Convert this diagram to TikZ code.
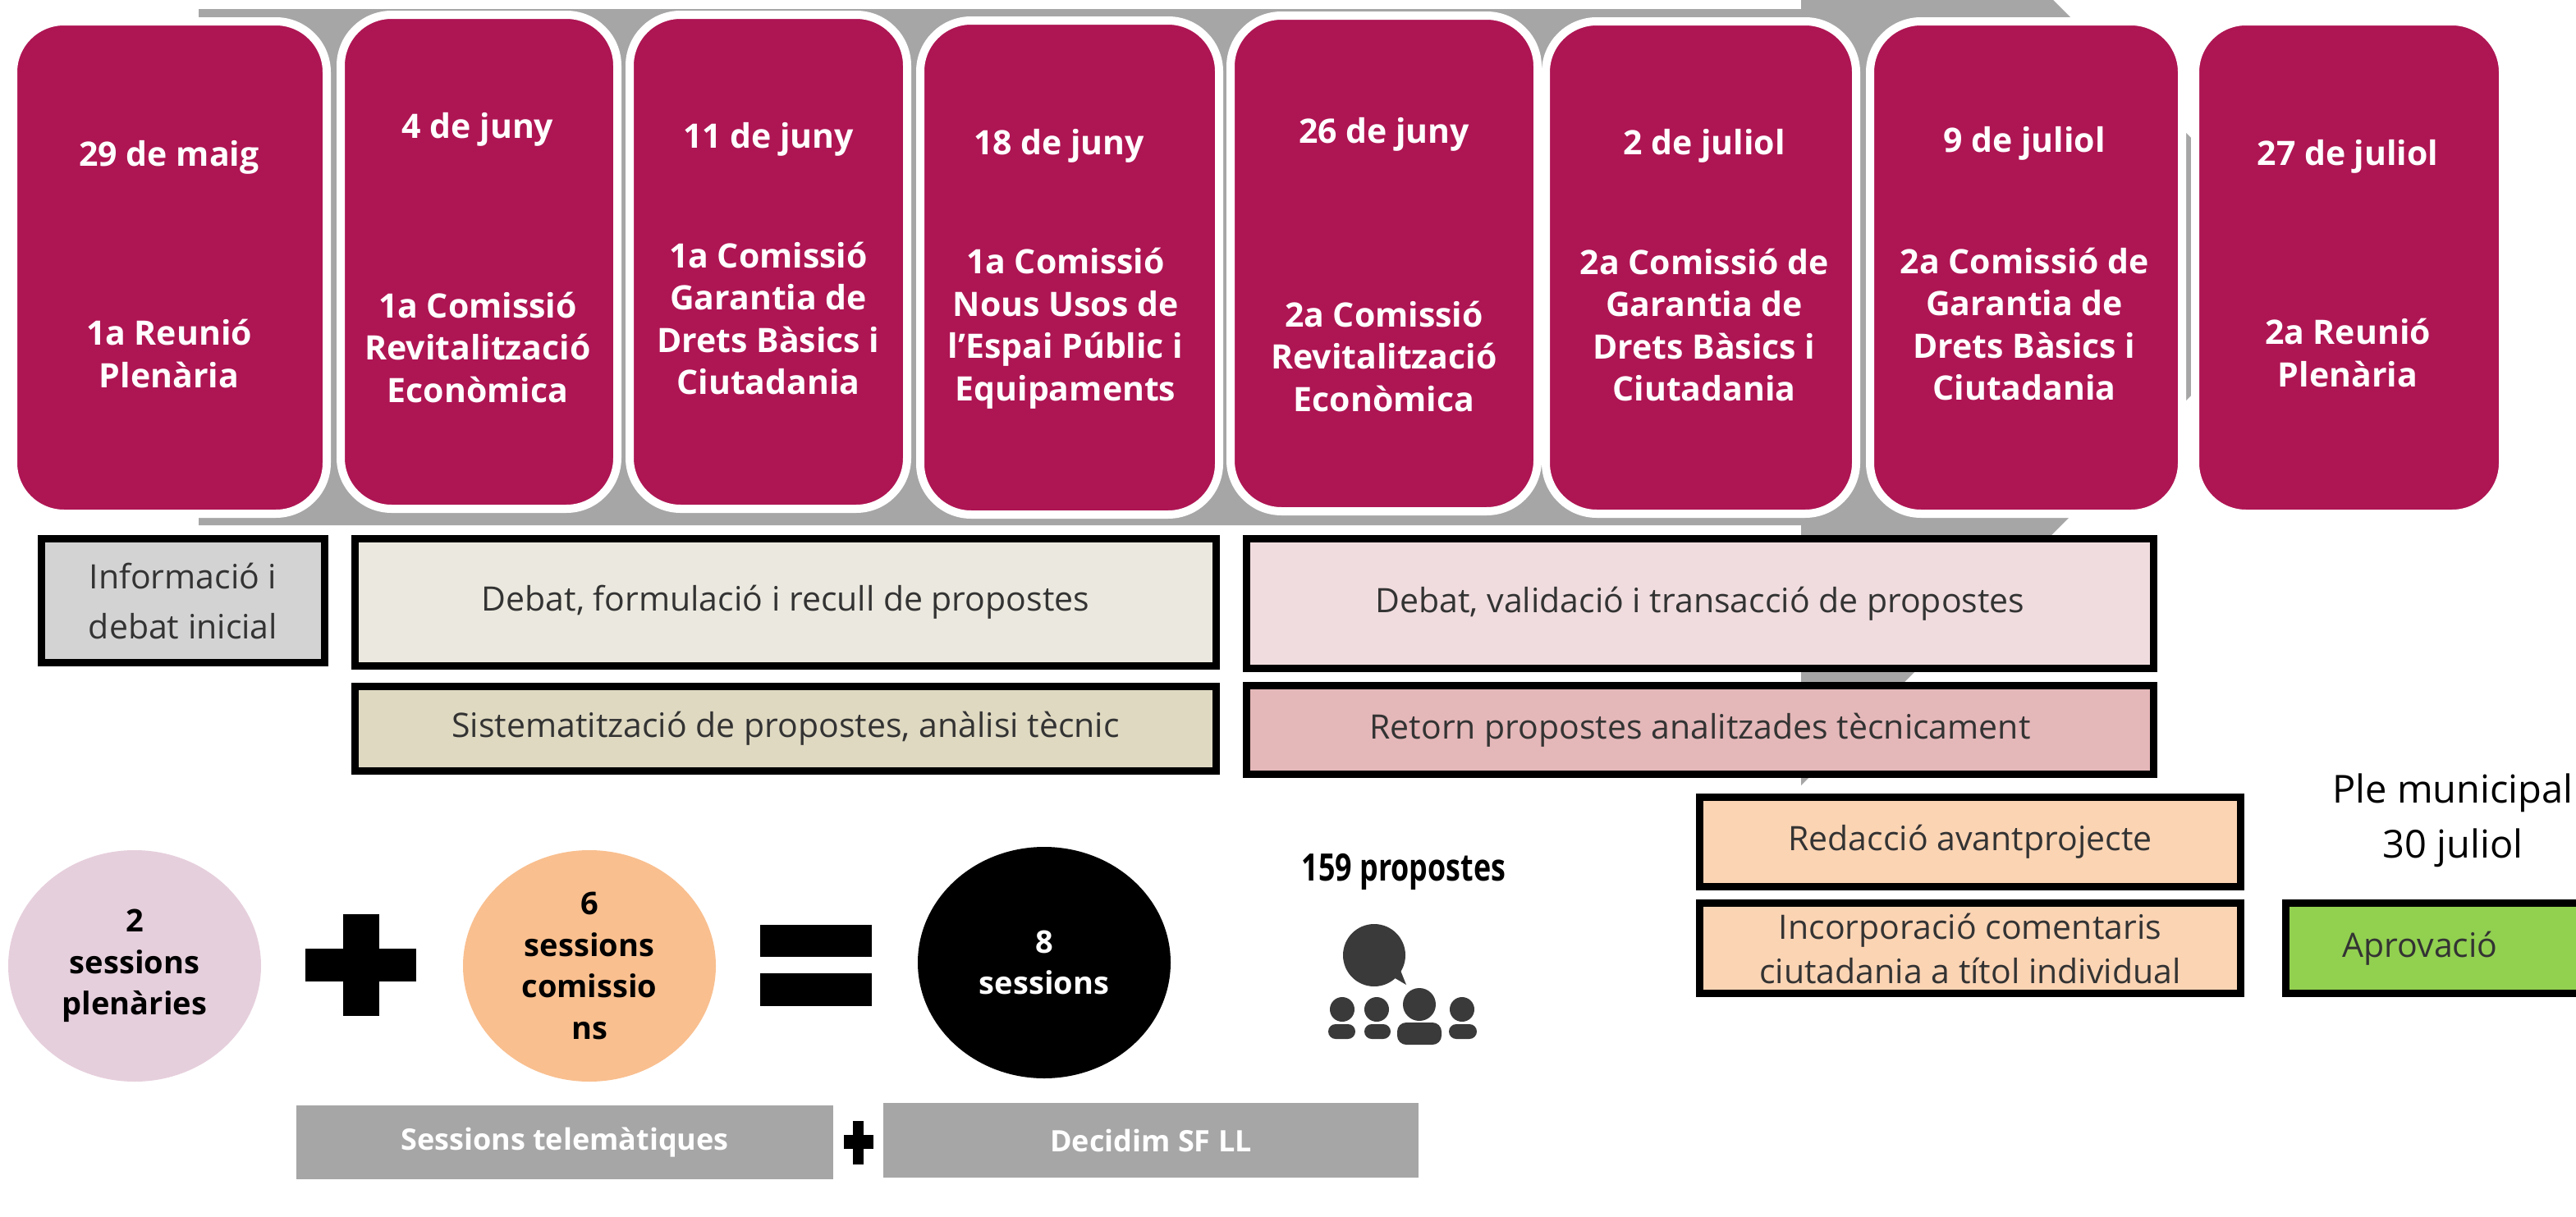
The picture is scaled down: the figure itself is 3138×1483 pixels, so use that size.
\documentclass[tikz,border=0pt]{standalone}
\usepackage{fontspec}
\setmainfont{Open Sans}
\usetikzlibrary{shapes.geometric}
\definecolor{cardc}{HTML}{AE1553}
\definecolor{arrowc}{HTML}{A6A6A6}
\definecolor{greyb}{HTML}{D3D3D3}
\definecolor{beigea}{HTML}{EBE9DF}
\definecolor{beigeb}{HTML}{DFD9C2}
\definecolor{rosea}{HTML}{F0DCDE}
\definecolor{roseb}{HTML}{E4B7B8}
\definecolor{peach}{HTML}{FBD4B4}
\definecolor{greenb}{HTML}{92D050}
\definecolor{pinkc}{HTML}{E6CFDC}
\definecolor{orangec}{HTML}{F9BF8F}
\definecolor{iconc}{HTML}{3A3A3A}
\definecolor{txt}{HTML}{333333}
\newcommand\fs[2]{\fontsize{#1}{#2}\selectfont}
% #1 style, #2 name, #3-#6 x0 y0 x1 y1, #7 extra on size, #8 text
\newcommand\mybox[8]{%
  \pgfmathsetmacro\bcx{(#3+#5)/2}\pgfmathsetmacro\bcy{(#4+#6)/2}%
  \pgfmathsetmacro\bw{#5-#3+#7}\pgfmathsetmacro\bh{#6-#4+#7}%
  \node[#1,minimum width=\bw pt,minimum height=\bh pt] (#2) at (\bcx,\bcy) {#8};}
\tikzset{
  card/.style={rectangle,rounded corners=62pt,fill=cardc,draw=white,line width=10pt,inner sep=0pt},
  cardtxt/.style={text=white,align=center,font=\fs{41}{51.5}\bfseries,inner sep=0pt},
  stage/.style={rectangle,draw=black,line width=9pt,text=txt,align=center,inner sep=0pt,font=\fs{41}{61}},
  bar/.style={rectangle,fill=black,inner sep=0pt},
  ball/.style={ellipse,inner sep=0pt,align=center,font=\fs{38}{50.5}\bfseries},
  greyrect/.style={rectangle,fill=arrowc,text=white,inner sep=0pt,font=\fs{36}{40}\bfseries},
  icon/.style={fill=iconc,draw=none},
}
\begin{document}
\begin{tikzpicture}[x=1pt,y=-1pt]
\useasboundingbox[fill=white] (0,0) rectangle (3138,1483);
% big arrow
\begin{scope}
\clip (0,0) rectangle (3138,1483);
\fill[arrowc] (242,11) -- (2194,11) -- (2194,-307) -- (2826,325) -- (2194,957) -- (2194,640) -- (242,640) -- cycle;
\fill[white] (0,0) rectangle (2194,9);
\end{scope}
% cards
\mybox{card}{c1}{21}{31}{393}{621}{10}{}
\mybox{card}{c2}{420}{23}{747}{615}{10}{}
\mybox{card}{c3}{772}{23}{1100}{615}{10}{}
\mybox{card}{c4}{1126}{30}{1480}{622}{10}{}
\mybox{card}{c5}{1504}{24}{1868}{618}{10}{}
\mybox{card}{c6}{1888}{31}{2256}{621}{10}{}
\mybox{card}{c7}{2283}{31}{2653}{621}{10}{}
\mybox{card}{c8}{2679}{31}{3044}{621}{10}{}
% card text
\node[cardtxt] (d1) at (206,192) {29 de maig};
\node[cardtxt] (t1) at (206,431) {1a Reunió\\Plenària};
\node[cardtxt] (d2) at (582,158) {4 de juny};
\node[cardtxt] (t2) at (582,423) {1a Comissió\\Revitalització\\Econòmica};
\node[cardtxt] (d3) at (936,170) {11 de juny};
\node[cardtxt] (t3) at (936,388) {1a Comissió\\Garantia de\\Drets Bàsics i\\Ciutadania};
\node[cardtxt] (d4) at (1290,178) {18 de juny};
\node[cardtxt] (t4) at (1298,400) {1a Comissió\\Nous Usos de\\l’Espai Públic i\\Equipaments};
\node[cardtxt] (d5) at (1686,164) {26 de juny};
\node[cardtxt] (t5) at (1686,434) {2a Comissió\\Revitalització\\Econòmica};
\node[cardtxt] (d6) at (2076,178) {2 de juliol};
\node[cardtxt] (t6) at (2076,396) {2a Comissió de\\Garantia de\\Drets Bàsics i\\Ciutadania};
\node[cardtxt] (d7) at (2466,175) {9 de juliol};
\node[cardtxt] (t7) at (2466,395) {2a Comissió de\\Garantia de\\Drets Bàsics i\\Ciutadania};
\node[cardtxt] (d8) at (2860,191) {27 de juliol};
\node[cardtxt] (t8) at (2860,430) {2a Reunió\\Plenària};
% stages
\mybox{stage,fill=greyb}{s1}{46}{652}{400}{812}{-9}{Informació i\\debat inicial}
\mybox{stage,fill=beigea}{s2}{428}{652}{1486}{816}{-9}{Debat, formulació i recull de propostes}
\mybox{stage,fill=beigeb}{s3}{428}{832}{1486}{944}{-9}{Sistematització de propostes, anàlisi tècnic}
\mybox{stage,fill=rosea}{s4}{1514}{652}{2628}{819}{-9}{Debat, validació i transacció  de propostes}
\mybox{stage,fill=roseb}{s5}{1514}{831}{2628}{948}{-9}{Retorn propostes analitzades tècnicament}
\mybox{stage,fill=peach}{s6}{2066}{967}{2734}{1085}{-9}{Redacció avantprojecte}
\mybox{stage,fill=peach,font=\fs{41}{54}}{s7}{2066}{1096}{2734}{1215}{-9}{Incorporació comentaris\\ciutadania a títol individual}
\mybox{stage,fill=greenb}{s8}{2780}{1096}{3160}{1215}{-9}{\hspace*{-44pt}Aprovació}
\node[align=center,inner sep=0pt,font=\fs{47}{67},text=black] (ple) at (2988,1000) {Ple municipal\\30 juliol};
% balls
\node[ball,fill=pinkc,minimum width=308pt,minimum height=282pt] (b1) at (164,1177) {2\\sessions\\plenàries};
\node[ball,fill=orangec,minimum width=308pt,minimum height=282pt] (b2) at (718,1177) {6\\sessions\\comissio\\ns};
\node[ball,fill=black,text=white,minimum width=308pt,minimum height=282pt] (b3) at (1272,1173) {8\\sessions};
% plus and equals
\node[bar,minimum width=135pt,minimum height=40pt] (p1h) at (439.5,1176) {};
\node[bar,minimum width=44pt,minimum height=124pt] (p1v) at (440,1176) {};
\node[bar,minimum width=136pt,minimum height=39pt] (e1) at (994,1146.5) {};
\node[bar,minimum width=136pt,minimum height=40pt] (e2) at (994,1206) {};
% bottom bars
\mybox{greyrect}{g1}{361}{1347}{1015}{1437}{0}{Sessions telemàtiques}
\mybox{greyrect}{g2}{1076}{1344}{1728}{1435}{0}{Decidim SF LL}
\node[bar,minimum width=36pt,minimum height=17pt] (p2h) at (1046,1391.5) {};
\node[bar,minimum width=13pt,minimum height=53pt] (p2v) at (1045.5,1392.5) {};
% 159 propostes
\node[inner sep=0pt] (num) at (1710,1062) {\scalebox{0.78}[1]{\fs{46}{50}\bfseries 159 propostes}};
% icon
\fill[icon] (1674,1164) ellipse (38 and 38);
\fill[icon] (1696,1190) -- (1713,1200) -- (1703,1175) -- cycle;
\fill[icon] (1635,1230) circle (15);
\fill[icon] (1677,1230) circle (15);
\fill[icon] (1729,1224) circle (20);
\fill[icon] (1781,1230) circle (15);
\fill[icon,rounded corners=9pt] (1618,1266) -- (1618,1248) -- (1651,1248) -- (1651,1266) -- cycle;
\fill[icon,rounded corners=9pt] (1662,1266) -- (1662,1248) -- (1694,1248) -- (1694,1266) -- cycle;
\fill[icon,rounded corners=11pt] (1702,1273) -- (1702,1246) -- (1756,1246) -- (1756,1273) -- cycle;
\fill[icon,rounded corners=9pt] (1765,1266) -- (1765,1248) -- (1799,1248) -- (1799,1266) -- cycle;
\end{tikzpicture}
\end{document}
